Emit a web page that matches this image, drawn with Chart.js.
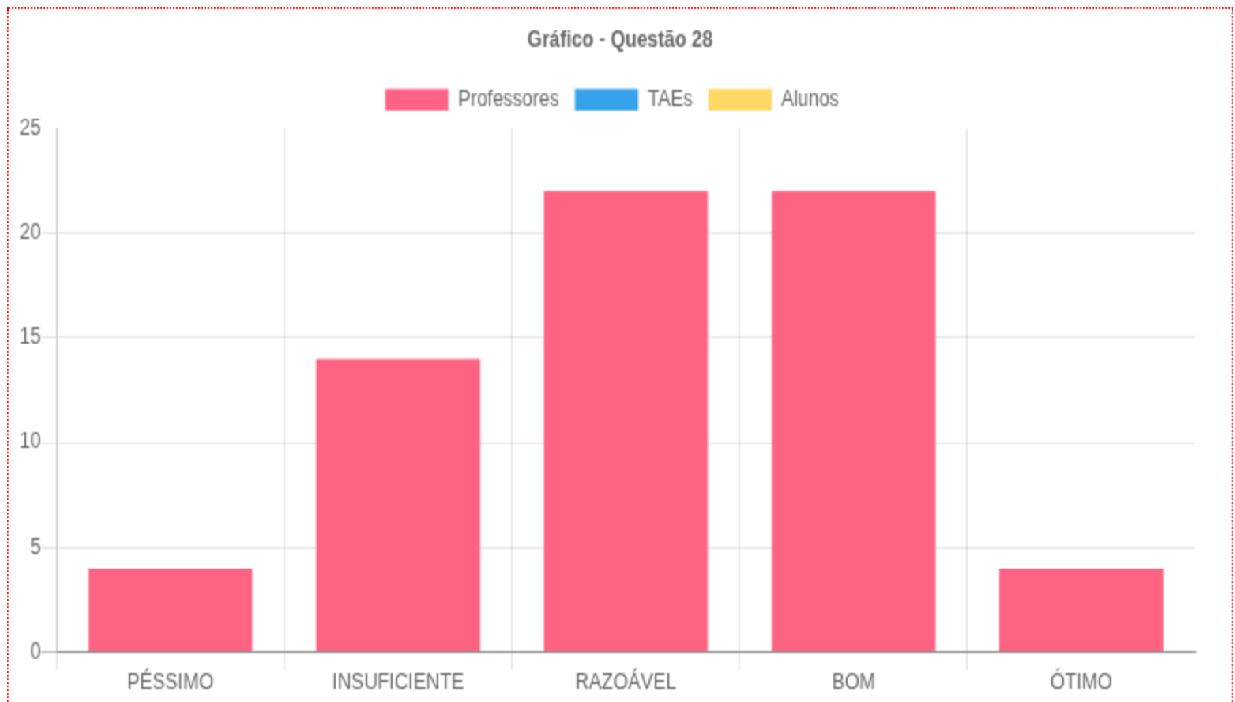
<!DOCTYPE html>
<html lang="pt-BR">
<head>
<meta charset="utf-8">
<title>Gráfico - Questão 28</title>
<script src="https://cdn.jsdelivr.net/npm/chart.js@4.4.1/dist/chart.umd.min.js"></script>
<style>
    html, body { margin: 0; padding: 0; background: #fff; overflow: hidden; }
    /* the whole block is drawn small, then stretched like the original screenshot */
    .frame {
        position: absolute; left: 7px; top: 7px; width: 774px; height: 400px;
        border: 1px dotted #f00;
        transform: scale(1.58, 1.8); transform-origin: 0 0;
    }
    .chart-box { position: relative; width: 774px; height: 385px; }
</style>
</head>
<body>
<div class="frame">
    <div class="chart-box"><canvas id="myChart"></canvas></div>
</div>
<script>
const categorias = ['PÉSSIMO', 'INSUFICIENTE', 'RAZOÁVEL', 'BOM', 'ÓTIMO'];
const professores = [4, 14, 22, 22, 4];
const taes = [];
const alunos = [];
const yTicks = [0, 5, 10, 15, 20, 25];

Chart.defaults.font.family = "'Helvetica Neue', Helvetica, Arial, 'Liberation Sans', sans-serif";
Chart.defaults.font.size = 12;
Chart.defaults.color = '#666';

// old-style legend sits a little left of centre
const legendShift = {
    id: 'legendShift',
    afterLayout(chart) {
        if (chart.legend) {
            chart.legend.left -= 5;
            chart.legend.right -= 5;
        }
    }
};

const ctx = document.getElementById('myChart');

if (ctx) {
    new Chart(ctx, {
        type: 'bar',
        data: {
            labels: categorias,
            datasets: [{
                label: 'Professores',
                data: professores,
                backgroundColor: 'rgb(255, 99, 132)',
                borderWidth: 0
            }, {
                label: 'TAEs',
                data: taes,
                backgroundColor: 'rgb(54, 162, 235)',
                borderWidth: 0
            }, {
                label: 'Alunos',
                data: alunos,
                backgroundColor: 'rgb(255, 215, 100)',
                borderWidth: 0
            }]
        },
        plugins: [legendShift],
        options: {
            responsive: true,
            maintainAspectRatio: false,
            animation: false,
            skipNull: true,
            layout: {
                padding: { bottom: 3 }
            },
            scales: {
                x: {
                    grid: {
                        offset: true,
                        tickLength: 10,
                        // no line on the far right edge
                        color: (c) => c.type === 'tick' ? 'rgba(0, 0, 0, 0.1)' : 'transparent'
                    },
                    border: { color: 'rgba(0, 0, 0, 0.25)' },
                    ticks: { padding: 0 },
                    afterFit: (scale) => { scale.paddingRight = 23; }
                },
                y: {
                    min: 0,
                    max: 25,
                    afterBuildTicks: (scale) => {
                        scale.ticks = yTicks.map(v => ({ value: v }));
                    },
                    grid: {
                        tickLength: 10,
                        color: (c) => {
                            if (c.tick && c.tick.value === 0) return 'rgba(0, 0, 0, 0.25)';
                            if (c.tick && c.tick.value === 25) return 'transparent';
                            return 'rgba(0, 0, 0, 0.1)';
                        }
                    },
                    border: { color: 'rgba(0, 0, 0, 0.1)' },
                    ticks: { padding: 0 },
                    afterFit: (scale) => { scale.width += 7; }
                }
            },
            plugins: {
                title: {
                    display: true,
                    text: 'Gráfico - Questão 28',
                    font: { size: 12, weight: 'bold' },
                    padding: 10
                },
                legend: {
                    labels: { boxWidth: 40 }
                }
            }
        }
    });
}
</script>
</body>
</html>
